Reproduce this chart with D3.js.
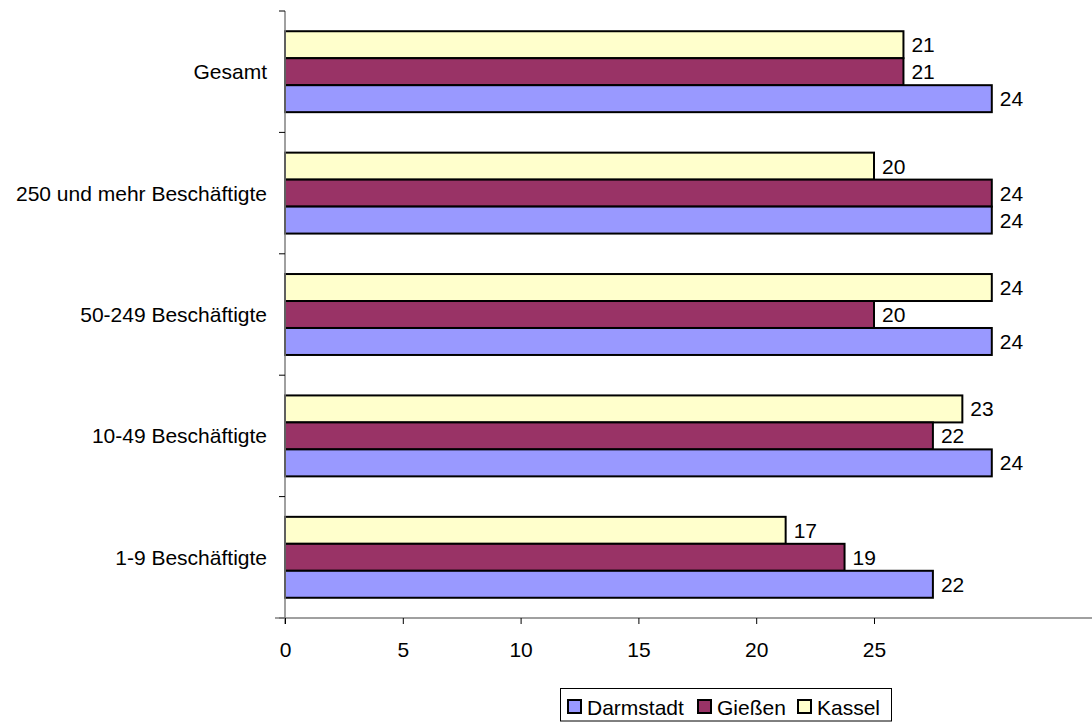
<!DOCTYPE html>
<html><head><meta charset="utf-8">
<script src="https://cdn.jsdelivr.net/npm/d3@7"></script>
<style>body{margin:0;background:#fff}svg{display:block}text{font-family:"Liberation Sans",Arial,sans-serif}</style>
</head><body>
<svg id="c" width="1092" height="722"></svg>
<script>
const categories = ["Gesamt","250 und mehr Beschäftigte","50-249 Beschäftigte","10-49 Beschäftigte","1-9 Beschäftigte"];
const seriesNames = ["Kassel","Gießen","Darmstadt"];
const kassel = [21,20,24,23,17];
const giessen = [21,24,20,22,19];
const darmstadt = [24,24,24,24,22];
const xTicks = [0,5,10,15,20,25];
const legendOrder = ["Darmstadt","Gießen","Kassel"];
const colors = {"Darmstadt":"#9999FF","Gießen":"#993366","Kassel":"#FFFFCC"};
const seriesValues = {"Kassel":kassel,"Gießen":giessen,"Darmstadt":darmstadt};

(function(){
const svg = d3.select("#c");
const x0 = 285, plotTop = 11, plotBottom = 618, fs = 21;
// bar scale (as drawn in the original: 20 units = 589 px)
const x = d3.scaleLinear().domain([0,20]).range([x0, 874]);
// axis scale (labels as printed in the original)
const xAxisScale = d3.scaleLinear().domain([0,25]).range([x0, 874]);
const y = d3.scaleBand().domain(categories).range([plotTop,plotBottom]).paddingInner(0).paddingOuter(0);
const inner = d3.scaleBand().domain(seriesNames).range([0,y.bandwidth()]).paddingOuter(0.75).paddingInner(0);

categories.forEach((c,i)=>{
  seriesNames.forEach(s=>{
    const v = seriesValues[s][i];
    const yy = y(c)+inner(s);
    svg.append("rect").attr("x",x(0)).attr("y",yy).attr("width",x(v)-x(0)).attr("height",inner.bandwidth())
      .attr("fill",colors[s]).attr("stroke","#000").attr("stroke-width",2);
    svg.append("text").attr("x",x(v)+8).attr("y",yy+inner.bandwidth()/2).attr("dy","0.36em")
      .attr("font-size",fs).attr("fill","#000").text(v);
  });
});

svg.append("line").attr("x1",x0).attr("x2",x0).attr("y1",plotTop).attr("y2",plotBottom+6).attr("stroke","#808080").attr("stroke-width",1.5);
d3.range(categories.length+1).forEach(i=>{
  const yy = plotTop + i*y.bandwidth();
  svg.append("line").attr("x1",x0-6).attr("x2",x0).attr("y1",yy).attr("y2",yy).attr("stroke","#000").attr("stroke-width",1);
});
categories.forEach(c=>{
  svg.append("text").attr("x",267).attr("y",y(c)+y.bandwidth()/2).attr("dy","0.36em").attr("text-anchor","end")
    .attr("font-size",fs).attr("fill","#000").text(c);
});

svg.append("line").attr("x1",x0-10).attr("x2",1092).attr("y1",plotBottom).attr("y2",plotBottom).attr("stroke","#808080").attr("stroke-width",1.5);
const xa = svg.append("g").attr("transform",`translate(0,${plotBottom})`)
  .call(d3.axisBottom(xAxisScale).tickValues(xTicks).tickSize(6).tickFormat(d3.format("d")));
xa.select(".domain").remove();
xa.selectAll(".tick line").attr("stroke","#000");
xa.selectAll(".tick text").attr("y",39).attr("dy",0).attr("font-size",fs).attr("fill","#000").style("font-family","'Liberation Sans',Arial,sans-serif");

const lg = svg.append("g");
lg.append("rect").attr("x",560.5).attr("y",688.5).attr("width",331).attr("height",32.5).attr("fill","#fff").attr("stroke","#000").attr("stroke-width",1);
const lx = [568, 698, 798];
legendOrder.forEach((s,i)=>{
  lg.append("rect").attr("x",lx[i]).attr("y",700).attr("width",13).attr("height",13).attr("fill",colors[s]).attr("stroke","#000").attr("stroke-width",2);
  lg.append("text").attr("x",lx[i]+19).attr("y",715).attr("font-size",fs).attr("fill","#000").text(s);
});
})();
</script>
</body></html>
